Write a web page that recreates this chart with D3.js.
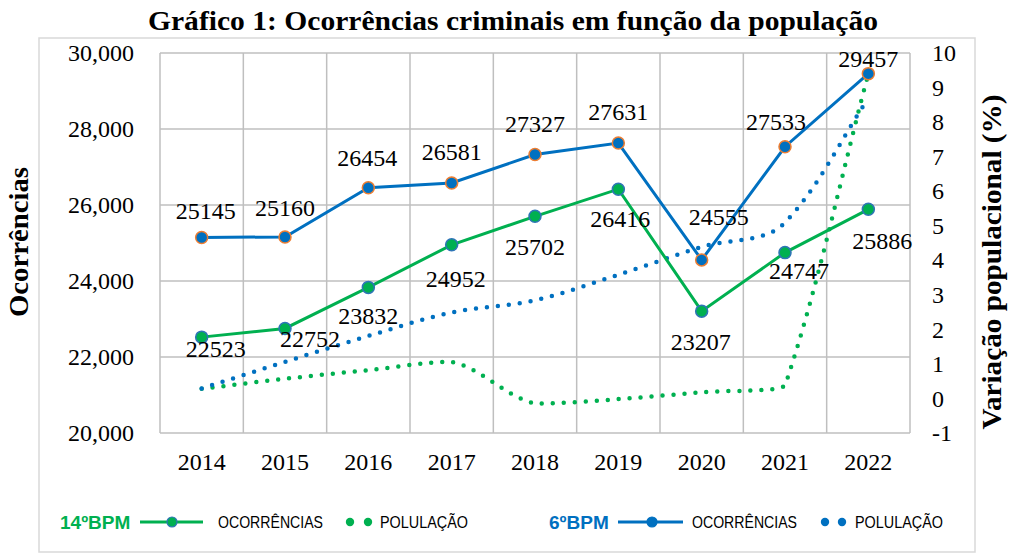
<!DOCTYPE html>
<html><head><meta charset="utf-8">
<script src="https://cdn.jsdelivr.net/npm/d3@7"></script>
<style>body{margin:0;background:#fff}svg{display:block}</style>
</head><body><svg id="c" width="1024" height="558"></svg>
<script>
// ---- data ----
const years = ["2014","2015","2016","2017","2018","2019","2020","2021","2022"];
const occ6 = [25145,25160,26454,26581,27327,27631,24555,27533,29457];
const occ14 = [22523,22752,23832,24952,25702,26416,23207,24747,25886];
const pop6 = [0.29,1.06,1.81,2.49,2.84,3.58,4.39,5.09,8.69];
const pop14 = [0.28,0.57,0.82,1.06,-0.15,-0.02,0.18,0.37,9.4];
const leftTicks = [20000,22000,24000,26000,28000,30000];
const rightTicks = [-1,0,1,2,3,4,5,6,7,8,9,10];
const titleText = "Gráfico 1: Ocorrências criminais em função da população";
const leftTitle = "Ocorrências";
const rightTitle = "Variação populacional (%)";
const legendUnits = ["14ºBPM","6ºBPM"];
const legendOcc = "OCORRÊNCIAS";
const legendPop = "POLULAÇÃO";

// ---- layout (label offsets relative to points) ----
const lab6 = [[4,-18],[0,-21],[-1,-22],[0,-23],[0,-23],[0,-23],[17,-35],[-9,-17],[0,-7]];
const lab14 = [[14,20],[25,19],[0,37],[4,42],[0,39],[2,38],[-1,39],[14,26],[14,40]];

const BLUE = "#0070C0", GREEN = "#00B050", ORANGE = "#ED7D31", MBLUE = "#2E75B6", GRID = "#BFBFBF";
const svg = d3.select("#c");
const L = 160, R = 910, T = 53, B = 433;

const x = d3.scaleBand().domain(years).range([L, R]);
const cx = d => x(d) + x.bandwidth()/2;
const yL = d3.scaleLinear().domain([20000,30000]).range([B, T]);
const yR = d3.scaleLinear().domain([-1,10]).range([B, T]);

// outer frame
svg.append("rect").attr("x",39).attr("y",38).attr("width",936).attr("height",514)
  .attr("fill","none").attr("stroke","#D9D9D9").attr("stroke-width",1.5);

// title
svg.append("text").attr("x",513).attr("y",30).attr("text-anchor","middle")
  .attr("font-family","Liberation Serif, Times New Roman, serif").attr("font-weight","bold").attr("font-size",28)
  .attr("textLength",730).attr("lengthAdjust","spacingAndGlyphs").text(titleText);

// grid
const g = svg.append("g");
g.selectAll(".hg").data(leftTicks).join("line")
  .attr("x1",L).attr("x2",R).attr("y1",d=>yL(d)).attr("y2",d=>yL(d))
  .attr("stroke",GRID).attr("stroke-width",1.5);
g.selectAll(".vg").data(years.map(d=>x(d)).concat([R])).join("line")
  .attr("x1",d=>d).attr("x2",d=>d).attr("y1",T).attr("y2",B)
  .attr("stroke",GRID).attr("stroke-width",1.5);

// axes
const serif = "Liberation Serif, Times New Roman, serif";
const axL = svg.append("g").attr("transform",`translate(${L-26},0)`)
  .call(d3.axisLeft(yL).tickValues(leftTicks).tickFormat(d3.format(",")).tickSize(0));
const axR = svg.append("g").attr("transform",`translate(${R+22},0)`)
  .call(d3.axisRight(yR).tickValues(rightTicks).tickFormat(d=>String(d)).tickSize(0));
const axB = svg.append("g").attr("transform",`translate(0,${B+20})`)
  .call(d3.axisBottom(x).tickSize(0));
[axL,axR,axB].forEach(a=>{
  a.select(".domain").remove();
  a.selectAll("text").attr("font-family",serif).attr("font-size",24).attr("fill","#000");
});
axR.selectAll("text").attr("x",0);
axL.selectAll("text").attr("x",0);
axB.selectAll("text").attr("dy","0.71em").attr("y",0);

// axis titles
svg.append("text").attr("transform","translate(28,242) rotate(-90)").attr("text-anchor","middle")
  .attr("font-family",serif).attr("font-weight","bold").attr("font-size",27)
  .attr("textLength",150).attr("lengthAdjust","spacingAndGlyphs").text(leftTitle);
svg.append("text").attr("transform","translate(1001,262) rotate(-90)").attr("text-anchor","middle")
  .attr("font-family",serif).attr("font-weight","bold").attr("font-size",27)
  .attr("textLength",335).attr("lengthAdjust","spacingAndGlyphs").text(rightTitle);

// Excel-like smoothed path through the scaled points, without overshoot
function smoothPath(pts, k){
  const n = pts.length;
  const tan = pts.map((p,i)=>{
    const a = pts[Math.max(0,i-1)], b = pts[Math.min(n-1,i+1)];
    const v0 = [p[0]-a[0], p[1]-a[1]], v1 = [b[0]-p[0], b[1]-p[1]];
    const l0 = Math.hypot(...v0), l1 = Math.hypot(...v1);
    const dx = v0[0]*l0 + v1[0]*l1, dy = v0[1]*l0 + v1[1]*l1, len = Math.hypot(dx,dy)||1;
    return [dx/len, dy/len];
  });
  const clamp = (v,a,b)=>Math.max(Math.min(a,b), Math.min(Math.max(a,b), v));
  const p = d3.path();
  p.moveTo(pts[0][0], pts[0][1]);
  for(let i=0;i<n-1;i++){
    const a = pts[i], b = pts[i+1];
    const d = Math.hypot(b[0]-a[0], b[1]-a[1]);
    const c1 = [a[0]+tan[i][0]*d*k, clamp(a[1]+tan[i][1]*d*k, a[1], b[1])];
    const c2 = [b[0]-tan[i+1][0]*d*k, clamp(b[1]-tan[i+1][1]*d*k, a[1], b[1])];
    p.bezierCurveTo(c1[0], c1[1], c2[0], c2[1], b[0], b[1]);
  }
  return p.toString();
}

// dotted population lines
[[pop14,GREEN],[pop6,BLUE]].forEach(([data,col])=>{
  const pts = data.map((d,i)=>[cx(years[i]), yR(d)]);
  svg.append("path").attr("d",smoothPath(pts,0.33)).attr("fill","none").attr("stroke",col)
    .attr("stroke-width",4.5).attr("stroke-linecap","round").attr("stroke-dasharray","0 11");
});

// solid occurrence lines
const occLine = d3.line().x((d,i)=>cx(years[i])).y(d=>yL(d));
[[occ14,GREEN,MBLUE],[occ6,BLUE,ORANGE]].forEach(([data,col,mcol])=>{
  svg.append("path").attr("d",occLine(data)).attr("fill","none").attr("stroke",col).attr("stroke-width",3);
  svg.append("g").selectAll("circle").data(data).join("circle")
    .attr("cx",(d,i)=>cx(years[i])).attr("cy",d=>yL(d)).attr("r",6)
    .attr("fill",col).attr("stroke",mcol).attr("stroke-width",1.5);
});

// data labels
[[occ6,lab6],[occ14,lab14]].forEach(([data,off])=>{
  svg.append("g").selectAll("text").data(data).join("text")
    .attr("x",(d,i)=>cx(years[i])+off[i][0]).attr("y",(d,i)=>yL(d)+off[i][1])
    .attr("text-anchor","middle").attr("font-family",serif).attr("font-size",24).attr("fill","#000")
    .text(d=>d);
});

// legend
const sans = "Liberation Sans, Arial, sans-serif";
const legY = 522;
const legDefs = [
  {unit:legendUnits[0], col:GREEN, mstroke:MBLUE, ux:60, lx1:140, lx2:203, mx:172, ox:218, d1:350, d2:368, px:380},
  {unit:legendUnits[1], col:BLUE, mstroke:BLUE, ux:549, lx1:618, lx2:683, mx:652, ox:692, d1:825, d2:842, px:855}
];
legDefs.forEach(l=>{
  svg.append("text").attr("x",l.ux).attr("y",legY).attr("dy","0.35em").attr("font-family",sans)
    .attr("font-weight","bold").attr("font-size",19).attr("fill",l.col).text(l.unit);
  svg.append("line").attr("x1",l.lx1).attr("x2",l.lx2).attr("y1",legY).attr("y2",legY)
    .attr("stroke",l.col).attr("stroke-width",3);
  svg.append("circle").attr("cx",l.mx).attr("cy",legY).attr("r",5).attr("fill",l.col)
    .attr("stroke",l.mstroke).attr("stroke-width",1.2);
  svg.append("text").attr("x",l.ox).attr("y",legY).attr("dy","0.35em").attr("font-family",sans)
    .attr("font-size",17).attr("textLength",105).attr("lengthAdjust","spacingAndGlyphs").text(legendOcc);
  [l.d1,l.d2].forEach(dx=>svg.append("circle").attr("cx",dx).attr("cy",legY).attr("r",4.2).attr("fill",l.col));
  svg.append("text").attr("x",l.px).attr("y",legY).attr("dy","0.35em").attr("font-family",sans)
    .attr("font-size",17).attr("textLength",88).attr("lengthAdjust","spacingAndGlyphs").text(legendPop);
});
</script></body></html>
